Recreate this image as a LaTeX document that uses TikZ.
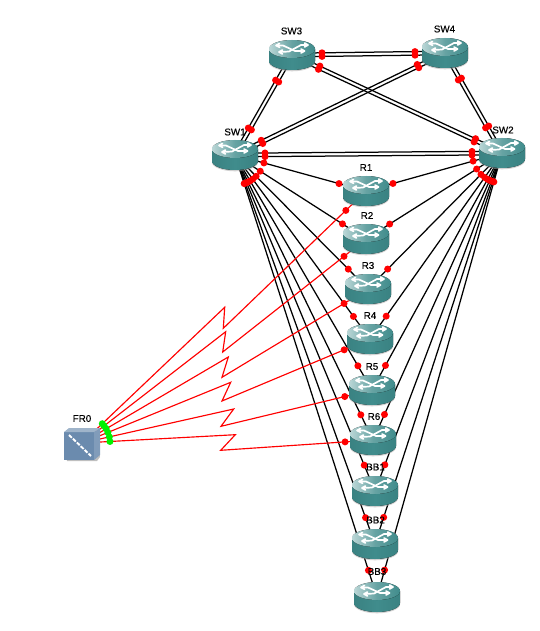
\documentclass[tikz,border=0pt]{standalone}
\usepackage{fontspec}
\setmainfont[FakeBold=0.35]{Liberation Sans}
\usetikzlibrary{calc}
\definecolor{rteal}{HTML}{408C8C}
\definecolor{rdark}{HTML}{3A8282}
\definecolor{rlight}{HTML}{BAD6D6}
\definecolor{fblue}{HTML}{6B8BAE}
\tikzset{
  anchorpt/.style={circle,inner sep=0pt,minimum size=0pt},
  wire/.style={black,line width=1.25pt},
  rwire/.style={red,line width=1.15pt,line join=miter},
  rdot/.style={fill=red},
  gdot/.style={fill=green!95!black},
  lab/.style={font=\fontsize{9.8}{10}\selectfont,inner sep=0pt,text=black},
  rarrow/.style={white,line width=1.7pt,line cap=round,line join=round},
}
\newcommand{\rtr}[2]{%
  \begin{scope}[shift={(#2)}]
    \fill[black!35,opacity=.5] (-23,-5) -- (-23,7.3) arc[x radius=23,y radius=9,start angle=180,end angle=0] -- (23,-5) -- cycle;
    \fill[left color=rdark,right color=rdark,middle color=rteal] (-23,-6) -- (-23,6) arc[x radius=23,y radius=9,start angle=180,end angle=0] -- (23,-6) -- cycle;
    \fill[left color=rlight,right color=rteal,middle color=rteal!80!white] (0,-6) ellipse[x radius=23,y radius=9];
    \draw[rarrow] (-15,-9.5) -- (-9,-9.5) -- (3,-4) -- (10,-4);
    \draw[rarrow] (15,-10) -- (9,-10) -- (-3,-3.5) -- (-12,-3);
    \draw[rarrow] (-12.5,-11.5) -- (-16,-9.5) -- (-12.5,-7.7);
    \draw[rarrow] (9,-6) -- (12.5,-4) -- (9,-2);
    \draw[rarrow] (12.5,-12) -- (16,-10) -- (12.5,-8);
    \draw[rarrow] (-9.5,-5) -- (-13,-3) -- (-9.5,-1);
  \end{scope}
  \node[anchorpt] (#1) at (#2) {};
}
\newcommand{\lnk}[2]{%
  \draw[wire] (#1) -- (#2);
}
\newcommand{\dlnk}[2]{%
  \draw[wire] ($(#1)!1.8pt!90:(#2)$) -- ($(#2)!1.8pt!-90:(#1)$);
  \draw[wire] ($(#1)!1.8pt!-90:(#2)$) -- ($(#2)!1.8pt!90:(#1)$);
}
\newcommand{\tipdots}[2]{%
  \fill[rdot] ($(#1)!30pt!(#2)$) circle (3.5);
  \fill[rdot] ($(#2)!28pt!(#1)$) circle (3.5);
}
\newcommand{\dbltips}[2]{%
  \fill[rdot] ($($(#1)!1.8pt!90:(#2)$)!30pt!($(#2)!1.8pt!-90:(#1)$)$) circle (3.5);
  \fill[rdot] ($($(#2)!1.8pt!-90:(#1)$)!30pt!($(#1)!1.8pt!90:(#2)$)$) circle (3.5);
  \fill[rdot] ($($(#1)!1.8pt!-90:(#2)$)!30pt!($(#2)!1.8pt!90:(#1)$)$) circle (3.5);
  \fill[rdot] ($($(#2)!1.8pt!90:(#1)$)!30pt!($(#1)!1.8pt!-90:(#2)$)$) circle (3.5);
}
\begin{document}
\begin{tikzpicture}[x=1pt,y=-1pt]
\useasboundingbox (0,0) rectangle (539,631);
% anchors
\foreach \nm/\pp in {SWthree/{292,55},SWfour/{445,53},SWone/{235,155},SWtwo/{502,153},
  Rone/{366,191},Rtwo/{366,239},Rthree/{368,289},Rfour/{370,339},Rfive/{372,390},Rsix/{373,440},
  BBone/{375,491},BBtwo/{375,544},BBthree/{377,597},FR/{82,443}}
  {\coordinate (\nm) at (\pp);}
% black links
\foreach \rt in {Rone,Rtwo,Rthree,Rfour,Rfive,Rsix,BBone,BBtwo,BBthree}{
  \lnk{SWone}{\rt}
  \lnk{SWtwo}{\rt}
}
\dlnk{SWone}{SWthree}
\dlnk{SWone}{SWfour}
\dlnk{SWone}{SWtwo}
\dlnk{SWtwo}{SWthree}
\dlnk{SWtwo}{SWfour}
\dlnk{SWthree}{SWfour}
% red links
\foreach \rt/\pa/\pb in {Rone/{224.7,307.3}/{223.3,328.3},Rtwo/{225.7,331.7}/{222.7,352},Rthree/{228.3,357}/{222,377.3},
  Rfour/{230.7,382.3}/{222,401},Rfive/{233.7,409}/{221,426.3},Rsix/{235.3,434.7}/{220.7,450.3}}{
  \draw[rwire] (FR) -- (\pa) -- (\pb) -- (\rt);
}
% routers
\rtr{SW3}{292,55}
\rtr{SW4}{445,53}
\rtr{SW1}{235,155}
\rtr{SW2}{502,153}
\rtr{R1}{366,191}
\rtr{R2}{366,239}
\rtr{R3}{368,289}
\rtr{R4}{370,339}
\rtr{R5}{372,390}
\rtr{R6}{373,440}
\rtr{BB1}{375,491}
\rtr{BB2}{375,544}
\rtr{BB3}{377,597}
% FR0 box
\fill[black!25] (65,431) -- (97,431) -- (100,457) -- (97,461) -- (67,461) -- cycle;
\fill[fblue] (64,432) -- (64,460) -- (94,460) -- (94,432) -- cycle;
\fill[fblue!65!white] (64,432) -- (69,428) -- (100,428) -- (94,432) -- cycle;
\fill[fblue!85!white] (94,432) -- (100,428) -- (100,455) -- (94,460) -- cycle;
\node[anchorpt] (FR0box) at (82,443) {};
\draw[white,line width=1.9pt,dash pattern=on 4pt off 1.4pt] (69,435) -- (91,456);
% dots
\foreach \rt in {Rone,Rtwo,Rthree,Rfour,Rfive,Rsix,BBone,BBtwo,BBthree}{
  \tipdots{SWone}{\rt}
  \tipdots{SWtwo}{\rt}
}
\dbltips{SWone}{SWthree}
\dbltips{SWone}{SWfour}
\dbltips{SWone}{SWtwo}
\dbltips{SWtwo}{SWthree}
\dbltips{SWtwo}{SWfour}
\dbltips{SWthree}{SWfour}
\foreach \rt/\pa/\pb in {Rone/{224.7,307.3}/{223.3,328.3},Rtwo/{225.7,331.7}/{222.7,352},Rthree/{228.3,357}/{222,377.3},
  Rfour/{230.7,382.3}/{222,401},Rfive/{233.7,409}/{221,426.3},Rsix/{235.3,434.7}/{220.7,450.3}}{
  \fill[gdot] ($(FR)!28pt!(\pa)$) circle (3.5);
  \fill[rdot] ($(\rt)!28pt!(\pb)$) circle (3.5);
}
% labels
\node[lab] (lSW3) at (291.5,31) {SW3};
\node[lab] (lSW4) at (444.5,29) {SW4};
\node[lab] (lSW1) at (235,132) {SW1};
\node[lab] (lSW2) at (503,130) {SW2};
\node[lab] (lR1) at (366,167.5) {R1};
\node[lab] (lR2) at (367,215.5) {R2};
\node[lab] (lR3) at (368,265.5) {R3};
\node[lab] (lR4) at (370,315.5) {R4};
\node[lab] (lR5) at (372,366.5) {R5};
\node[lab] (lR6) at (374,416.5) {R6};
\node[lab] (lBB1) at (375.5,467) {BB1};
\node[lab] (lBB2) at (375.5,520) {BB2};
\node[lab] (lBB3) at (377,571.5) {BB3};
\node[lab] (lFR0) at (82,418.5) {FR0};
\end{tikzpicture}
\end{document}
